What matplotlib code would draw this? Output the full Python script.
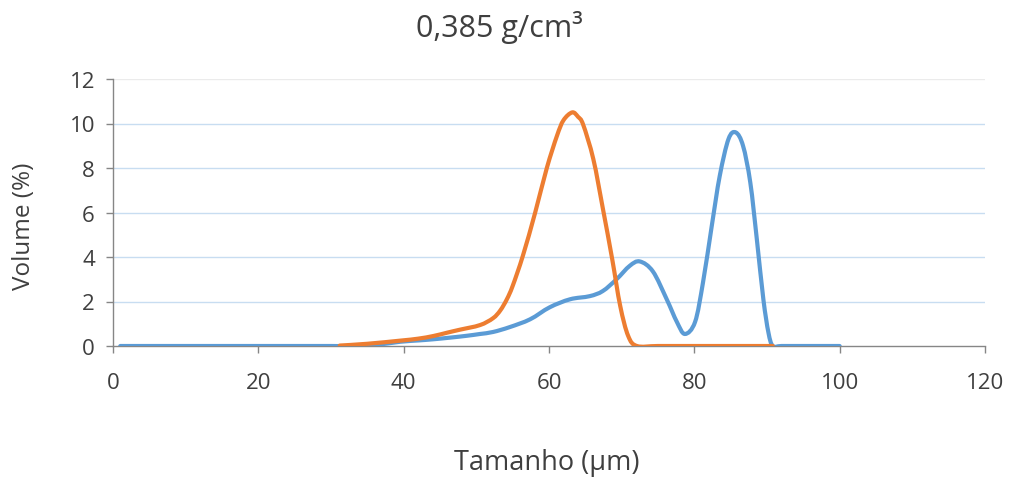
import numpy as np
import matplotlib
matplotlib.use("Agg")
import matplotlib.pyplot as plt
from matplotlib.path import Path
from matplotlib.patches import PathPatch

# Particle size distribution (volume %) vs. size (µm)
blue_x = [1, 10, 20, 30, 34, 37, 39.5, 42, 44, 46.5, 48.7, 50.5, 52.3, 54.6,
          57.4, 60.1, 62.9, 65.6, 67.4, 69.3, 71.1, 72.5, 74.3, 76.2, 77.6,
          78.7, 80.1, 81.2, 82.4, 83.5, 84.7, 85.7, 86.7, 87.7, 88.6, 89.5,
          90.2, 90.8, 92, 95, 100]
blue_y = [0, 0, 0, 0, 0, 0.08, 0.19, 0.25, 0.3, 0.38, 0.46, 0.54, 0.63, 0.85,
          1.2, 1.74, 2.1, 2.24, 2.47, 3.0, 3.6, 3.8, 3.35, 2.1, 1.08,
          0.54, 1.08, 2.87, 5.4, 7.65, 9.3, 9.6, 9.0, 7.35, 4.8, 2.1,
          0.6, 0, 0, 0, 0]

orange_x = [31.2, 35, 39.5, 42, 44.1, 46, 47.7, 50.5, 52.3, 53.3, 54.2, 55.0,
            56.4, 58.1, 59.7, 61.1, 62.0, 63.2, 64.0, 64.7, 66.1, 67.4, 68.7,
            69.8, 70.9, 72.1, 75, 80, 85, 90.8]
orange_y = [0.02, 0.1, 0.24, 0.33, 0.45, 0.6, 0.73, 0.94, 1.25, 1.6, 2.1, 2.7,
            4.05, 6.0, 8.0, 9.45, 10.15, 10.5, 10.3, 9.95, 8.4, 6.2, 3.9,
            1.8, 0.45, 0, 0, 0, 0, 0]

x_ticks = [0, 20, 40, 60, 80, 100, 120]
y_ticks = [0, 2, 4, 6, 8, 10, 12]

title = "0,385 g/cm³"
x_label = "Tamanho (µm)"
y_label = "Volume (%)"

BLUE = "#5B9BD5"
ORANGE = "#ED7D31"
TEXT = "#3F3F3F"

plt.rcParams["font.family"] = ["Open Sans", "DejaVu Sans"]

W, H = 1016, 481


def smooth_path(xs, ys):
    """Cubic Bezier path through the points (Catmull-Rom tangents)."""
    pts = np.column_stack([xs, ys]).astype(float)
    n = len(pts)
    verts = [pts[0]]
    codes = [Path.MOVETO]
    for i in range(n - 1):
        p0 = pts[i - 1] if i > 0 else pts[i]
        p1 = pts[i]
        p2 = pts[i + 1]
        p3 = pts[i + 2] if i + 2 < n else pts[i + 1]
        c1 = p1 + (p2 - p0) / 6.0
        c2 = p2 - (p3 - p1) / 6.0
        verts += [c1, c2, p2]
        codes += [Path.CURVE4] * 3
    return Path(verts, codes)


fig = plt.figure(figsize=(W / 100, H / 100), dpi=100)
ax = fig.add_axes([113 / W, 1 - 347 / H, 872 / W, 267 / H])

ax.set_xlim(0, 120)
ax.set_ylim(0, 12)

for v in y_ticks[1:-1]:
    ax.axhline(v, color="#C8DDF1", lw=1.0, zorder=1)
ax.axhline(12, color="#EBEBEB", lw=1.0, zorder=1)

for xs, ys, col, z in [(blue_x, blue_y, BLUE, 3), (orange_x, orange_y, ORANGE, 4)]:
    patch = PathPatch(smooth_path(xs, ys), facecolor="none", edgecolor=col,
                      lw=3.0, capstyle="round", joinstyle="round", zorder=z)
    ax.add_patch(patch)

for side in ["top", "right"]:
    ax.spines[side].set_visible(False)
for side in ["left", "bottom"]:
    ax.spines[side].set_color("#868686")
    ax.spines[side].set_linewidth(1.0)

ax.set_xticks(x_ticks)
ax.set_yticks(y_ticks)
ax.tick_params(axis="both", direction="out", length=5, width=1.0,
               color="#868686", labelcolor=TEXT, labelsize=16)
ax.tick_params(axis="x", pad=14)
ax.tick_params(axis="y", pad=8)

fig.text(547 / W, 1 - 463 / H, x_label, ha="center", va="center",
         fontsize=19.5, color=TEXT)
fig.text(24 / W, 1 - 226 / H, y_label, ha="center", va="center",
         rotation=90, fontsize=17.5, color=TEXT)
fig.text(499 / W, 1 - 27 / H, title, ha="center", va="center",
         fontsize=22, color=TEXT)

fig.savefig("out.png", dpi=100, facecolor="white")
